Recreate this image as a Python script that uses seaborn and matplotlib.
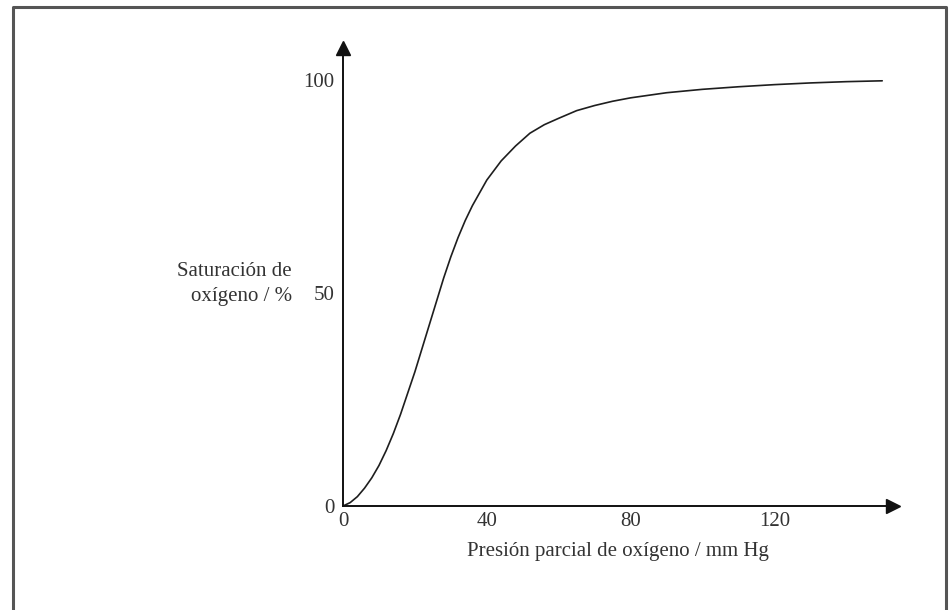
import matplotlib
matplotlib.use("Agg")
import matplotlib.pyplot as plt
import seaborn as sns
import pandas as pd
from matplotlib.lines import Line2D

# Oxygen-haemoglobin dissociation curve
presion = [0, 2, 4, 6, 8, 10, 12, 14, 16, 18, 20, 22, 24, 26, 28, 30, 32, 34,
           36, 38, 40, 44, 48, 52, 56, 60, 65, 70, 75, 80, 90, 100, 110, 120,
           130, 140, 150]
saturacion = [0, 0.8, 2.2, 4.2, 6.6, 9.5, 13, 17, 21.5, 26.5, 31.5, 37, 42.5,
              48, 53.5, 58.5, 63, 67, 70.5, 73.5, 76.5, 81, 84.5, 87.5, 89.5,
              91, 92.8, 94, 95, 95.8, 97, 97.8, 98.4, 98.9, 99.3, 99.6, 99.8]
x_ticks = [0, 40, 80, 120]
y_ticks = [0, 50, 100]

df = pd.DataFrame({"presion": presion, "saturacion": saturacion})

sns.set_theme(style="white")
plt.rcParams["font.family"] = ["Liberation Serif", "DejaVu Serif"]

W, H = 949, 610
fig = plt.figure(figsize=(W / 100, H / 100), dpi=100)
fig.patch.set_facecolor("white")

# outer frame (left, top, right edges)
frame_col = "#555555"
fig.add_artist(Line2D([13 / W, 13 / W, 946 / W, 946 / W],
                      [0, (H - 7) / H, (H - 7) / H, 0],
                      transform=fig.transFigure, color=frame_col, lw=2.2))

# axes: origin at (343, 506) px, arrow tips at x=893 and y=48
left, right, top, bottom = 343, 893, 48, 506
ax = fig.add_axes([left / W, (H - bottom) / H, (right - left) / W, (bottom - top) / H])
ax.set_facecolor("none")

sns.lineplot(data=df, x="presion", y="saturacion", ax=ax, color="#1e1e1e",
             linewidth=1.2, estimator=None, sort=False)

ax.set_xlim(0, 153)
ax.set_ylim(0, 107.5)

for side in ["top", "right"]:
    ax.spines[side].set_visible(False)
for side in ["left", "bottom"]:
    ax.spines[side].set_color("#111111")
    ax.spines[side].set_linewidth(1.4)

# arrow heads
ax.plot(1, 0, ">", color="#111111", markersize=10, transform=ax.transAxes, clip_on=False)
ax.plot(0, 1, "^", color="#111111", markersize=10, transform=ax.transAxes, clip_on=False)

ax.set_xticks(x_ticks)
ax.set_yticks(y_ticks)
ax.tick_params(axis="x", direction="inout", length=7, width=1, color="#333333",
               labelsize=15, labelcolor="#333333", pad=1)
ax.tick_params(axis="y", direction="out", length=5, width=1, color="#333333",
               labelsize=15, labelcolor="#333333", pad=1)

ax.set_xlabel("Presión parcial de oxígeno / mm Hg", fontsize=15, color="#333333",
              labelpad=8)
ax.set_ylabel("")
fig.text(292 / W, (H - 284) / H, "Saturación de\noxígeno / %", ha="right",
         va="center", multialignment="right", fontsize=15, color="#333333",
         linespacing=1.45)

fig.savefig("out.png", dpi=100)
